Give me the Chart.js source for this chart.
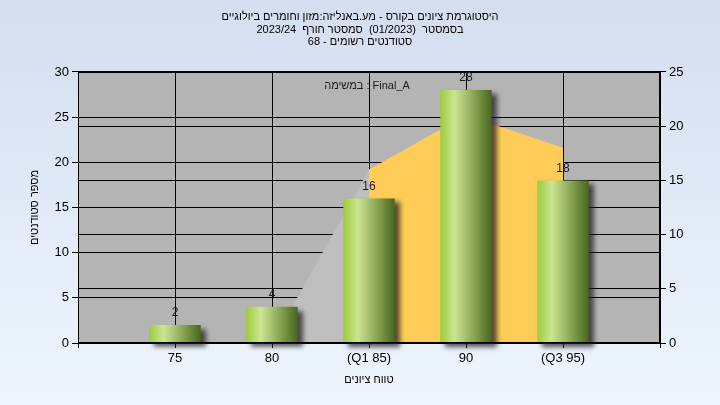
<!DOCTYPE html>
<html>
<head>
<meta charset="utf-8">
<script src="https://cdn.jsdelivr.net/npm/chart.js@4"></script>
<style>
  html, body { margin: 0; padding: 0; }
</style>
</head>
<body>
<canvas id="histChart" width="720" height="405"></canvas>
<script>
// grade bins, blank slots at both ends keep the spacing of the original plot
const gradeLabels = ['', '75', '80', '(Q1 85)', '90', '(Q3 95)', ''];
const studentCounts = [null, 2, 4, 16, 28, 18, null];
// background distribution area (right axis)
const curveValues = [null, 0, 0, 16, 21, 18, null];

const titleLines = [
    'היסטוגרמת ציונים בקורס - מע.באנליזה:מזון וחומרים ביולוגיים',
    'בסמסטר  (01/2023)  סמסטר חורף  2023/24',
    'סטודנטים רשומים - 68'
];
const xTitle = 'טווח ציונים';
const yTitle = 'מספר סטודנטים';
const seriesName = 'במשימה : Final_A';

const fontFamily = '"Liberation Sans", Arial, sans-serif';
const barPct = 0.53;

function barGradient(context) {
    const chart = context.chart;
    const xScale = chart.scales.x;
    if (!chart.chartArea || !xScale) {
        return '#9ab865';
    }
    const center = xScale.getPixelForValue(context.dataIndex);
    const step = xScale.getPixelForValue(1) - xScale.getPixelForValue(0);
    const half = step * barPct / 2;
    const g = chart.ctx.createLinearGradient(center - half, 0, center + half, 0);
    g.addColorStop(0, '#9ccd3a');
    g.addColorStop(0.28, '#cbe592');
    g.addColorStop(0.55, '#9db768');
    g.addColorStop(0.8, '#6c8b3a');
    g.addColorStop(1, '#4a6522');
    return g;
}

const backgroundPlugin = {
    id: 'backgroundPlugin',
    beforeDraw(chart) {
        const {ctx, width, height, chartArea} = chart;
        ctx.save();
        const g = ctx.createLinearGradient(0, 0, 0, height);
        g.addColorStop(0, '#d3deef');
        g.addColorStop(1, '#eef5fe');
        ctx.fillStyle = g;
        ctx.fillRect(0, 0, width, height);
        ctx.fillStyle = '#b4b4b4';
        ctx.fillRect(chartArea.left, chartArea.top, chartArea.right - chartArea.left, chartArea.bottom - chartArea.top);
        ctx.restore();
    }
};

const barShadowPlugin = {
    id: 'barShadow',
    beforeDatasetDraw(chart, args) {
        if (args.meta.type !== 'bar') return;
        const ctx = chart.ctx;
        ctx.save();
        ctx.shadowColor = 'rgba(30,30,30,0.75)';
        ctx.shadowBlur = 5;
        ctx.shadowOffsetX = 5;
        ctx.shadowOffsetY = 4;
    },
    afterDatasetDraw(chart, args) {
        if (args.meta.type !== 'bar') return;
        chart.ctx.restore();
    }
};

const overlayPlugin = {
    id: 'overlay',
    afterDatasetsDraw(chart) {
        const {ctx, chartArea} = chart;
        ctx.save();
        // frame around plot
        ctx.strokeStyle = '#000';
        ctx.lineWidth = 1;
        ctx.strokeRect(Math.round(chartArea.left) + 0.5, Math.round(chartArea.top) + 0.5,
            Math.round(chartArea.right - chartArea.left) - 1, Math.round(chartArea.bottom - chartArea.top) - 1);

        // value labels over bars
        ctx.fillStyle = '#1c1c1c';
        ctx.font = '12px ' + fontFamily;
        ctx.textAlign = 'center';
        ctx.textBaseline = 'middle';
        const meta = chart.getDatasetMeta(1);
        meta.data.forEach((bar, i) => {
            const v = studentCounts[i];
            if (v === null) return;
            ctx.fillText(String(v), bar.x, bar.y - 12);
        });

        // series caption
        ctx.font = '11px ' + fontFamily;
        ctx.fillText(seriesName, 367, chartArea.top + 14);
        ctx.restore();
    }
};

const data = {
    labels: gradeLabels,
    datasets: [{
        type: 'line',
        data: curveValues,
        yAxisID: 'y1',
        order: 2,
        fill: 'origin',
        borderWidth: 0,
        borderColor: 'rgba(0,0,0,0)',
        pointRadius: 0,
        tension: 0,
        backgroundColor: '#ffcd57',
        segment: {
            backgroundColor: ctx => ctx.p0DataIndex < 3 ? '#bebebe' : '#ffcd57'
        }
    }, {
        type: 'bar',
        data: studentCounts,
        yAxisID: 'y',
        order: 1,
        clip: false,
        backgroundColor: barGradient,
        borderWidth: 0,
        barPercentage: barPct,
        categoryPercentage: 1
    }]
};

const configChart = {
    type: 'bar',
    data: data,
    plugins: [backgroundPlugin, barShadowPlugin, overlayPlugin],
    options: {
        responsive: false,
        animation: false,
        layout: { padding: 0 },
        plugins: {
            legend: { display: false },
            tooltip: { enabled: false },
            title: {
                display: true,
                text: titleLines,
                color: '#000',
                font: { family: fontFamily, size: 11, weight: 'normal', lineHeight: 1.12 },
                padding: { top: 11, bottom: 24 }
            }
        },
        scales: {
            x: {
                offset: false,
                grid: { color: '#000', offset: false, tickLength: 5 },
                border: { color: '#000' },
                ticks: {
                    color: '#000', padding: 3, autoSkip: false, maxRotation: 0,
                    font: { family: fontFamily, size: 13 }
                },
                title: {
                    display: true, text: xTitle, color: '#000',
                    font: { family: fontFamily, size: 11 },
                    padding: { top: 0, bottom: 18 }
                },
                afterFit(scale) { scale.height = 62; }
            },
            y: {
                position: 'left',
                min: 0,
                max: 30,
                grid: { color: '#000', tickLength: 6 },
                border: { color: '#000' },
                ticks: {
                    stepSize: 5, color: '#000', padding: 3,
                    font: { family: fontFamily, size: 13 }
                },
                title: {
                    display: true, text: yTitle, color: '#000',
                    font: { family: fontFamily, size: 11 },
                    padding: { top: 28, bottom: 0 }
                },
                afterFit(scale) { scale.width = 78; }
            },
            y1: {
                position: 'right',
                min: 0,
                max: 25,
                grid: { color: '#000', tickLength: 6 },
                border: { color: '#000' },
                ticks: {
                    stepSize: 5, color: '#000', padding: 3,
                    font: { family: fontFamily, size: 13 }
                },
                afterFit(scale) { scale.width = 60; }
            }
        }
    }
};

let chart = new Chart(document.getElementById('histChart'), configChart);
</script>
</body>
</html>
